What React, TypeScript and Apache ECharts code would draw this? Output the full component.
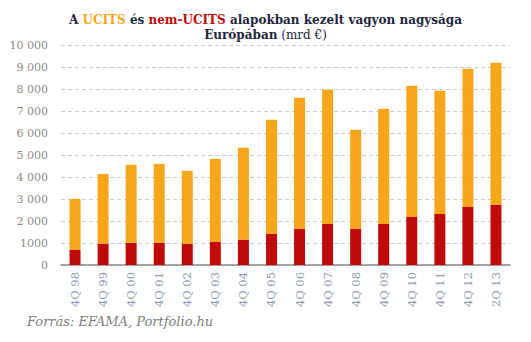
import React, { useEffect, useRef } from "react";
import * as echarts from "echarts";

const categories = ["4Q 98", "4Q 99", "4Q 00", "4Q 01", "4Q 02", "4Q 03", "4Q 04", "4Q 05", "4Q 06", "4Q 07", "4Q 08", "4Q 09", "4Q 10", "4Q 11", "4Q 12", "2Q 13"];
const nemUcits = [683, 970, 1016, 1016, 970, 1062, 1153, 1411, 1639, 1866, 1639, 1866, 2185, 2321, 2640, 2731];
const total = [3004, 4142, 4552, 4597, 4279, 4825, 5325, 6600, 7601, 7965, 6145, 7100, 8147, 7920, 8921, 9194];
const ucits = total.map((t, i) => t - nemUcits[i]);

function fmt(v: number): string {
  if (v === 1000 || v < 1000) return String(v);
  return String(v).replace(/(\d+)(\d{3})$/, "$1 $2");
}

const rich = {
  b: { fontFamily: "DejaVu Serif", fontWeight: "bold", fontSize: 12, color: "#1f2640" },
  o: { fontFamily: "DejaVu Serif", fontWeight: "bold", fontSize: 12, color: "#f7a61c" },
  r: { fontFamily: "DejaVu Serif", fontWeight: "bold", fontSize: 12, color: "#c00a0a" },
  n: { fontFamily: "DejaVu Serif", fontWeight: "normal", fontSize: 12, color: "#1f2640" },
};

export default function App() {
  const ref = useRef<HTMLDivElement>(null);
  useEffect(() => {
    const chart = echarts.init(ref.current!, undefined, { renderer: "svg" });
    chart.setOption({
      animation: false,
      title: [
        {
          text: "{b|A }{o|UCITS}{b| és }{r|nem-UCITS}{b| alapokban kezelt vagyon nagysága}",
          left: "center",
          top: 14,
          padding: 0,
          textStyle: { rich },
        },
        {
          text: "{b|Európában}{n| (mrd €)}",
          left: "center",
          top: 29,
          padding: 0,
          textStyle: { rich },
        },
      ],
      graphic: [
        {
          type: "text",
          left: 27,
          top: 315,
          style: {
            text: "Forrás: EFAMA, Portfolio.hu",
            font: "italic 13px 'DejaVu Serif'",
            fill: "#808080",
          },
        },
      ],
      grid: { left: 61, right: 21, top: 45, bottom: 77, containLabel: false },
      xAxis: {
        type: "category",
        data: categories,
        axisLine: { lineStyle: { color: "#888888", width: 1.5 } },
        axisTick: { show: false },
        axisLabel: {
          rotate: 90,
          margin: 7,
          color: "#8e9ab0",
          fontFamily: "DejaVu Serif",
          fontSize: 11.5,
          interval: 0,
        },
      },
      yAxis: {
        type: "value",
        min: 0,
        max: 10000,
        interval: 1000,
        axisLine: { show: false },
        axisTick: { show: false },
        splitLine: { lineStyle: { color: "#cccccc", type: [4, 3] } },
        axisLabel: {
          margin: 13,
          color: "#8a8a8a",
          fontFamily: "DejaVu Serif",
          fontSize: 11,
          formatter: (v: number) => fmt(v),
        },
      },
      series: [
        {
          name: "nem-UCITS",
          type: "bar",
          stack: "a",
          data: nemUcits,
          barWidth: 11,
          itemStyle: { color: "#c00a0a" },
        },
        {
          name: "UCITS",
          type: "bar",
          stack: "a",
          data: ucits,
          barWidth: 11,
          itemStyle: { color: "#f7a61c" },
        },
      ],
    });
    return () => chart.dispose();
  }, []);
  return <div ref={ref} style={{ width: 531, height: 342, position: "absolute", left: 0, top: 0 }} />;
}
